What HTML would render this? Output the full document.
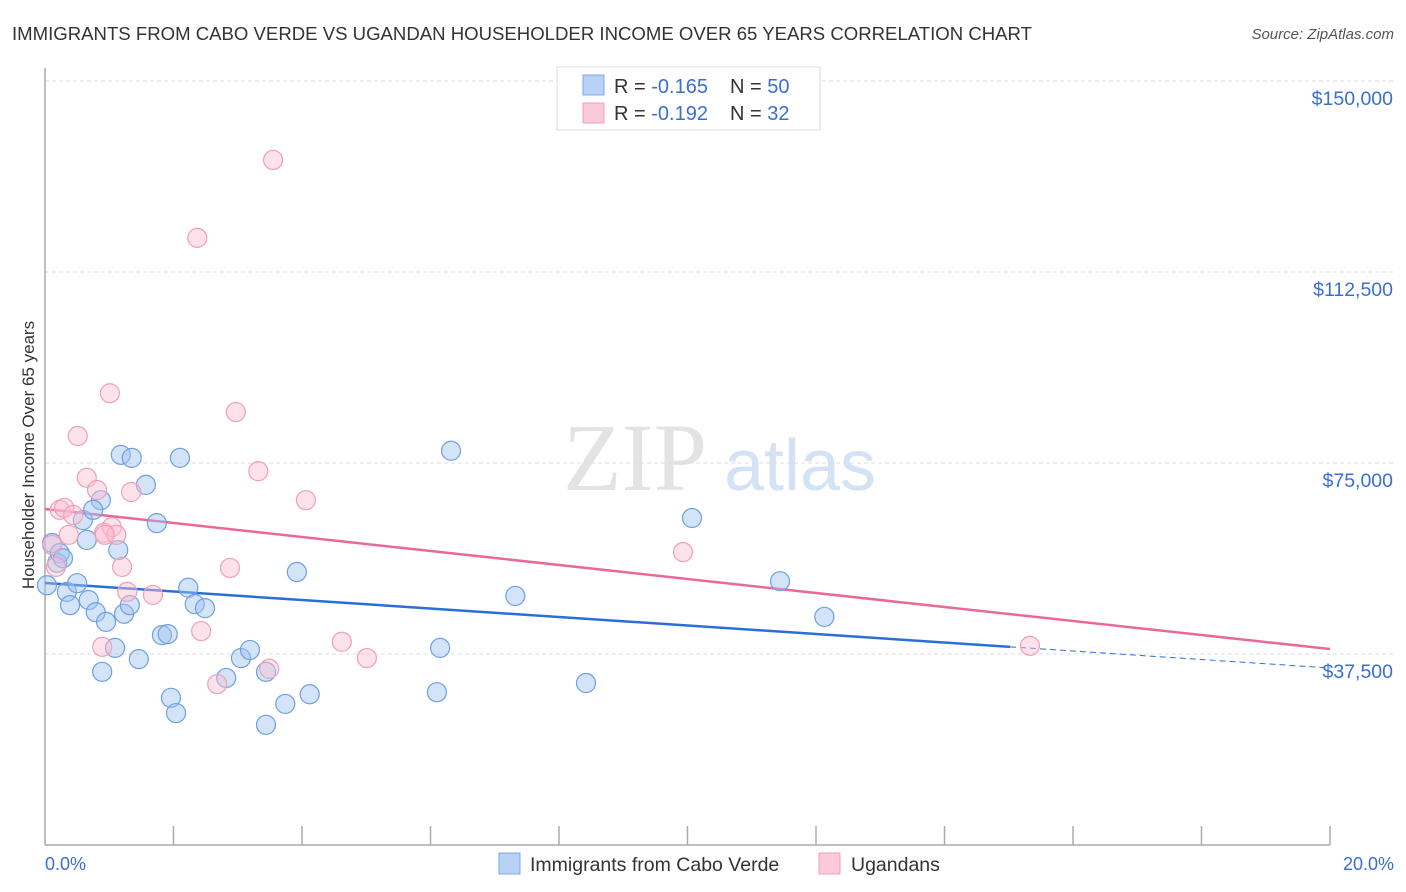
<!DOCTYPE html>
<html><head><meta charset="utf-8"><style>
body{margin:0;background:#fff;font-family:"Liberation Sans",sans-serif;}
svg{display:block}
</style></head><body>
<svg id="chart" width="1406" height="892" xmlns="http://www.w3.org/2000/svg">
<text x="12" y="40" font-size="18.5" fill="#333" textLength="1020" lengthAdjust="spacingAndGlyphs">IMMIGRANTS FROM CABO VERDE VS UGANDAN HOUSEHOLDER INCOME OVER 65 YEARS CORRELATION CHART</text>
<text x="1394" y="39" font-size="15" fill="#555" font-style="italic" text-anchor="end">Source: ZipAtlas.com</text>
<g>
<text x="635" y="490" font-size="96" fill="#ddd" font-family="Liberation Serif" text-anchor="middle" opacity="0.8">ZIP</text>
<text x="800" y="490" font-size="72" fill="#c9dbf2" text-anchor="middle" opacity="0.8">atlas</text>
</g>
<g id="grid"></g>
<g id="axes"></g>
<g id="trend"></g>
<g id="pts"></g>
<text transform="translate(34,455) rotate(-90)" font-size="17" fill="#333" text-anchor="middle">Householder Income Over 65 years</text>
<text x="45" y="870" font-size="18" fill="#3a6fd0">0.0%</text>
<text x="1394" y="870" font-size="18" fill="#3a6fd0" text-anchor="end">20.0%</text>
<g>
<rect x="557" y="67" width="263" height="63" fill="#fff" stroke="#ddd"/>
<rect x="583" y="75" width="21" height="20" fill="#b8d2f5" stroke="#7fa8e8"/>
<rect x="583" y="103" width="21" height="20" fill="#fcc9d8" stroke="#eea0b8"/>
<text x="614" y="93" font-size="20" fill="#333">R = <tspan fill="#3a6fd0">-0.165</tspan><tspan x="730">N = </tspan><tspan fill="#3a6fd0">50</tspan></text>
<text x="614" y="120" font-size="20" fill="#333">R = <tspan fill="#3a6fd0">-0.192</tspan><tspan x="730">N = </tspan><tspan fill="#3a6fd0"> 32</tspan></text>
</g>
<g>
<rect x="499" y="853" width="21" height="21" fill="#b8d2f5" stroke="#7fa8e8"/>
<text x="530" y="871" font-size="19.5" fill="#333">Immigrants from Cabo Verde</text>
<rect x="819" y="853" width="21" height="21" fill="#fcc9d8" stroke="#eea0b8"/>
<text x="851" y="871" font-size="19.5" fill="#333">Ugandans</text>
</g>
</svg>
<script>
const yTicks=[37500,75000,112500,150000];
const yTickLabels=["$37,500","$75,000","$112,500","$150,000"];
const blueX=[0.03,0.11,0.19,0.23,0.28,0.34,0.39,0.50,0.59,0.65,0.68,0.79,0.87,0.89,0.95,0.75,1.09,1.14,1.18,1.23,1.32,1.35,1.46,1.57,1.74,1.82,1.91,1.96,2.04,2.10,2.23,2.33,2.49,2.82,3.05,3.19,3.44,3.44,3.74,3.92,4.12,6.15,6.10,6.32,7.32,8.42,10.07,11.44,12.13];
const blueY=[51.0,59.3,55.4,57.3,56.3,49.7,47.1,51.4,63.8,59.9,48.1,45.7,67.7,34.0,43.8,65.8,38.7,57.9,76.6,45.4,47.1,76.0,36.5,70.7,63.2,41.2,41.4,28.9,25.9,76.0,50.5,47.3,46.5,32.8,36.7,38.3,34.0,23.6,27.7,53.6,29.6,38.7,30.0,77.4,48.9,31.8,64.2,51.8,44.8];
const pinkX=[0.11,0.17,0.23,0.30,0.37,0.44,0.51,0.65,0.81,0.92,1.01,1.04,1.11,1.20,0.89,1.28,1.34,1.68,2.37,2.43,2.68,2.88,2.97,3.32,3.49,3.55,4.06,4.62,5.01,9.93,15.33,0.93];
const pinkY=[58.9,54.6,65.8,66.2,60.9,64.8,80.3,72.1,69.7,61.3,88.7,62.4,60.9,54.6,38.9,49.7,69.3,49.1,119.2,42.0,31.6,54.4,85.0,73.4,34.6,134.5,67.7,39.9,36.7,57.5,39.1,60.9];
const blueTrend=[51440,34750];
const pinkTrend=[65970,38480];
const blueSolidEnd=15.02;
const NS="http://www.w3.org/2000/svg";
const X0=45,X1=1330,Y0=845,PX=191/37500;
const xs=v=>X0+(v/20)*(X1-X0);
const ys=v=>Y0-v*PX;
function mk(t,a,p){const e=document.createElementNS(NS,t);for(const k in a)e.setAttribute(k,a[k]);p.appendChild(e);return e;}
const grid=document.getElementById('grid'),axes=document.getElementById('axes'),trend=document.getElementById('trend'),pts=document.getElementById('pts');
yTicks.forEach((t,i)=>{
 const l=mk('line',{x1:X0,x2:1394,y1:ys(t),y2:ys(t),stroke:'#ddd','stroke-dasharray':'4,3'},grid);
 
 
 const tx=mk('text',{x:1393,y:ys(t)+24,'font-size':19.5,fill:'#3a6fd0','text-anchor':'end'},grid);
 tx.textContent=yTickLabels[i];
 
 
});
const ya=mk('line',{x1:X0,x2:X0,y1:68,y2:Y0,stroke:'#aaa','stroke-width':1.5},axes);


const xa=mk('line',{x1:X0,x2:X1,y1:Y0,y2:Y0,stroke:'#aaa','stroke-width':1.5},axes);


for(let i=1;i<=10;i++){
 const tk=mk('line',{x1:xs(i*2),x2:xs(i*2),y1:Y0-19,y2:Y0,stroke:'#aaa','stroke-width':1.5},axes);
 
 
}
const bv=x=>blueTrend[0]+(blueTrend[1]-blueTrend[0])*x/20;
const b1=mk('line',{x1:xs(0),y1:ys(bv(0)),x2:xs(blueSolidEnd),y2:ys(bv(blueSolidEnd)),stroke:'#2b6fd6','stroke-width':2.5},trend);


const b2=mk('line',{x1:xs(blueSolidEnd),y1:ys(bv(blueSolidEnd)),x2:xs(20),y2:ys(bv(20)),stroke:'#2b6fd6','stroke-width':1,'stroke-dasharray':'6,4'},trend);


const p1=mk('line',{x1:xs(0),y1:ys(pinkTrend[0]),x2:xs(20),y2:ys(pinkTrend[1]),stroke:'#e8689a','stroke-width':2.5},trend);


blueX.forEach((x,i)=>{
 const c=mk('circle',{cx:xs(x),cy:ys(blueY[i]*1000),r:9.5,fill:'rgba(160,196,240,0.45)',stroke:'#6f9fe3','stroke-width':1.2},pts);
 
 
});
pinkX.forEach((x,i)=>{
 const c=mk('circle',{cx:xs(x),cy:ys(pinkY[i]*1000),r:9.5,fill:'rgba(250,190,208,0.45)',stroke:'#eea0b8','stroke-width':1.2},pts);
 
 
});
</script>
</body></html>
